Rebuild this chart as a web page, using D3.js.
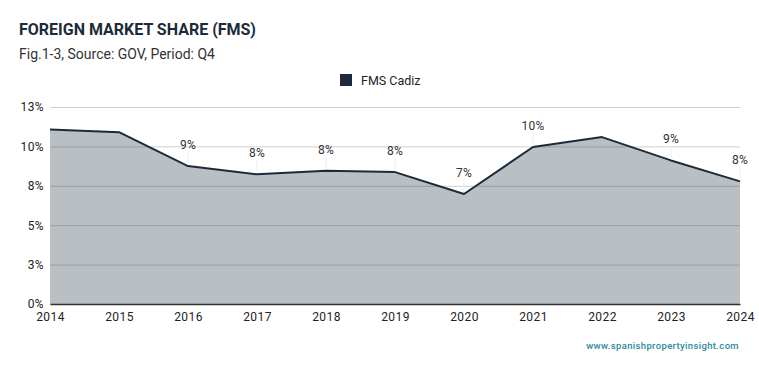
<!DOCTYPE html>
<html>
<head>
<meta charset="utf-8">
<script src="https://cdn.jsdelivr.net/npm/d3@7"></script>
<style>
  body { margin: 0; background: #fff; font-family: Roboto, sans-serif; }
  .axis text { font-family: Roboto, sans-serif; font-size: 12px; fill: #222; letter-spacing: 0.4px; }
</style>
</head>
<body>
<div id="chart"></div>
<script>
// data
var years = [2014, 2015, 2016, 2017, 2018, 2019, 2020, 2021, 2022, 2023, 2024];
var fmsCadiz = [11.08, 10.9, 8.75, 8.23, 8.46, 8.37, 6.98, 9.96, 10.59, 9.11, 7.78];
var labelled = [2016, 2017, 2018, 2019, 2020, 2021, 2023, 2024];
var yTicks = [0, 2.5, 5, 7.5, 10, 12.5];
var seriesName = "FMS Cadiz";

var W = 759, H = 371;
var margin = {top: 107, right: 19, bottom: 67, left: 50};
var width = W - margin.left - margin.right,
    height = H - margin.top - margin.bottom;

var lineColor = "#1c2b39";

var svg = d3.select("#chart").append("svg")
    .attr("width", W)
    .attr("height", H);

// titles
svg.append("text")
    .attr("x", 19).attr("y", 35)
    .attr("font-size", 16).attr("font-weight", 700)
    .attr("fill", "#1c2b39")
    .text("FOREIGN MARKET SHARE (FMS)");
svg.append("text")
    .attr("x", 19).attr("y", 59)
    .attr("font-size", 14)
    .attr("fill", "#333")
    .text("Fig.1-3, Source: GOV, Period: Q4");

// legend
svg.append("rect")
    .attr("x", 340).attr("y", 74).attr("width", 12).attr("height", 12)
    .attr("fill", lineColor);
svg.append("text")
    .attr("x", 361).attr("y", 84.5)
    .attr("font-size", 12.5).attr("fill", "#222")
    .text(seriesName);

var g = svg.append("g")
    .attr("transform", "translate(" + margin.left + "," + margin.top + ")");

var x = d3.scaleLinear()
    .domain(d3.extent(years))
    .range([0, width]);

var y = d3.scaleLinear()
    .domain([0, 12.5])
    .range([height, 0]);

// grid lines
g.append("g")
    .attr("class", "grid")
    .call(d3.axisLeft(y).tickValues(yTicks).tickSize(-width).tickFormat(""))
    .call(s => s.select(".domain").remove())
    .selectAll("line")
    .attr("stroke", "#cfcfcf");

// y axis labels
g.append("g")
    .attr("class", "axis")
    .call(d3.axisLeft(y).tickValues(yTicks).tickSize(0).tickPadding(6)
      .tickFormat(d => Math.round(d) + "%"))
    .call(s => s.select(".domain").remove());

// area + line
var data = years.map((yr, i) => ({year: yr, v: fmsCadiz[i]}));

g.append("path")
    .datum(data)
    .attr("fill", lineColor)
    .attr("fill-opacity", 0.3)
    .attr("d", d3.area().x(d => x(d.year)).y0(height).y1(d => y(d.v)));

g.append("path")
    .datum(data)
    .attr("fill", "none")
    .attr("stroke", lineColor)
    .attr("stroke-width", 2)
    .attr("stroke-linejoin", "round")
    .attr("d", d3.line().x(d => x(d.year)).y(d => y(d.v)));

// x axis
g.append("g")
    .attr("class", "axis")
    .attr("transform", "translate(0," + height + ")")
    .call(d3.axisBottom(x).tickValues(years).tickSize(0).tickPadding(8)
      .tickFormat(d3.format("d")))
    .call(s => s.select(".domain").attr("stroke", "#333").attr("stroke-width", 1.5));

// data labels
var lab = g.selectAll(".lbl")
    .data(data.filter(d => labelled.indexOf(d.year) >= 0))
    .enter().append("g")
    .attr("class", "lbl");

lab.append("line")
    .attr("x1", d => x(d.year)).attr("x2", d => x(d.year))
    .attr("y1", d => y(d.v) - 2).attr("y2", d => y(d.v) - 15)
    .attr("stroke", "#eeeeee")
    .attr("stroke-width", 1);

lab.append("text")
    .attr("x", d => x(d.year))
    .attr("y", d => y(d.v) - 17)
    .attr("text-anchor", "middle")
    .attr("font-size", 12)
    .attr("letter-spacing", 0.3)
    .attr("fill", "#333")
    .text(d => Math.round(d.v) + "%");

// watermark
svg.append("text")
    .attr("x", 739).attr("y", 349)
    .attr("text-anchor", "end")
    .attr("font-size", 9.5).attr("font-weight", 500)
    .attr("letter-spacing", 0.35)
    .attr("fill", "#2a8c9c")
    .text("www.spanishpropertyinsight.com");
</script>
</body>
</html>
